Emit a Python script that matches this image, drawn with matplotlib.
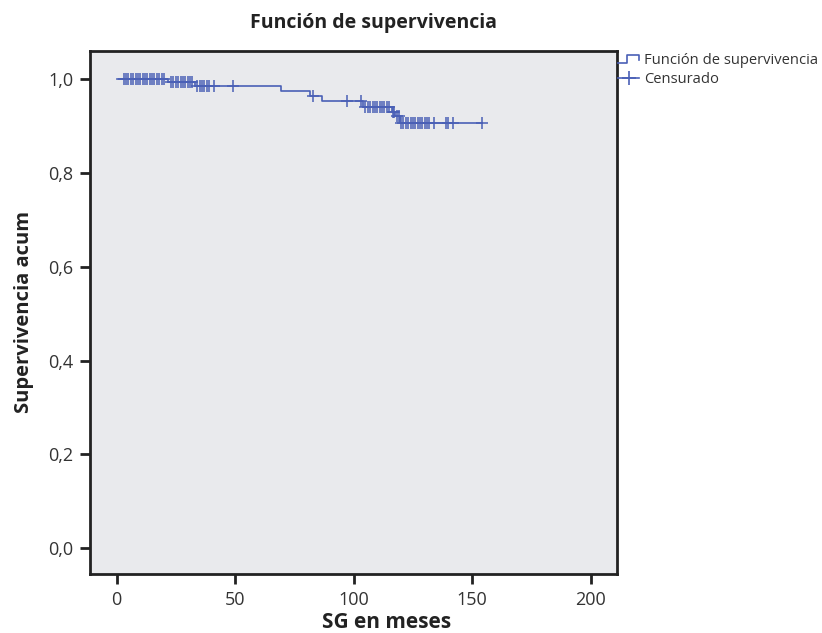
import matplotlib
matplotlib.use("Agg")
import matplotlib.pyplot as plt
import numpy as np
from matplotlib.lines import Line2D
from matplotlib.legend_handler import HandlerBase

# ---- data ----
step_times = [0, 21.7, 33.0, 69.4, 81.5, 86.6, 104.0, 116.0, 117.6, 119.5, 154.0]
step_surv = [1.0, 0.994, 0.985, 0.976, 0.965, 0.953, 0.942, 0.930, 0.922, 0.906, 0.906]

censor_times = [3, 4, 5, 6, 7, 8, 9, 10, 11, 12, 13, 14, 15, 16, 17, 18, 19, 20,
                23, 24, 25, 26, 27, 28, 29, 30, 31, 32,
                34, 35, 36, 37, 38, 39, 41, 49,
                83, 97, 103,
                105, 106, 107, 108, 109, 110, 111, 112, 113, 114, 115,
                116.6, 117.2, 118.2, 119.0,
                120, 121, 122, 123, 124, 125, 126, 127, 128, 129, 130, 131, 132, 134,
                139, 140, 142, 154]

x_ticks = [0, 50, 100, 150, 200]
y_ticks = [0.0, 0.2, 0.4, 0.6, 0.8, 1.0]
y_tick_labels = ["0,0", "0,2", "0,4", "0,6", "0,8", "1,0"]

title = "Función de supervivencia"
xlabel = "SG en meses"
ylabel = "Supervivencia acum"
legend_labels = ["Función de supervivencia", "Censurado"]

line_color = "#4a60b6"

plt.rcParams['font.family'] = ['Open Sans', 'DejaVu Sans']

fig = plt.figure(figsize=(8.22, 6.33), dpi=100)
ax = fig.add_axes([90/822, 1-574/633, (617-90)/822, (574-50.7)/633])
ax.set_facecolor("#e9eaed")

# step function
ax.step(step_times, step_surv, where="post", color=line_color, lw=1.2)
# censor marks
st = np.array(step_times)
sv = np.array(step_surv)
cens_y = [sv[np.searchsorted(st, t, side="right") - 1] for t in censor_times]
ax.plot(censor_times, cens_y, linestyle="none", marker="+", color=line_color,
        markersize=8, markeredgewidth=1.1)

ax.set_xlim(-11.2, 211.1)
ax.set_ylim(-0.0554, 1.0612)
ax.set_xticks(x_ticks)
ax.set_xticklabels([str(v) for v in x_ticks])
ax.set_yticks(y_ticks)
ax.set_yticklabels(y_tick_labels)

for s in ax.spines.values():
    s.set_linewidth(2.0)
    s.set_color("#222222")
ax.tick_params(direction="out", length=7, width=2.0, color="#222222",
               labelsize=13, labelcolor="#333333", pad=5)

ax.set_title(title, fontsize=14, fontweight="bold", color="#222222", pad=16,
             x=(373.5 - 90) / 527)
ax.set_xlabel(xlabel, fontsize=15, fontweight="bold", color="#222222", labelpad=0)
ax.xaxis.set_label_coords((387 - 90) / 527, -0.092)
ax.xaxis.label.set_va("center")
ax.set_ylabel(ylabel, fontsize=14.5, fontweight="bold", color="#222222", labelpad=10)


class StepHandler(HandlerBase):
    def create_artists(self, legend, orig_handle, xdescent, ydescent, width,
                       height, fontsize, trans):
        x0 = -xdescent
        y0 = -ydescent
        xs = [x0, x0 + width * 0.45, x0 + width * 0.45, x0 + width, x0 + width]
        ys = [y0 + height * 0.1, y0 + height * 0.1, y0 + height * 0.9,
              y0 + height * 0.9, y0 + height * 0.4]
        l = Line2D(xs, ys, color=line_color, lw=1.2, transform=trans)
        return [l]


h1 = Line2D([], [], color=line_color)
h2 = Line2D([], [], color=line_color, marker="+", markersize=10,
            markeredgewidth=1.2, lw=1.2)
leg = fig.legend([h1, h2], legend_labels, loc="upper left",
                 bbox_to_anchor=(612/822, 1-47/633), frameon=False,
                 fontsize=10.6, handlelength=1.45, handletextpad=0.35,
                 labelspacing=0.3, borderaxespad=0,
                 handler_map={h1: StepHandler()})
for t in leg.get_texts():
    t.set_color("#333333")

fig.savefig("out.png", dpi=100, facecolor="white")
